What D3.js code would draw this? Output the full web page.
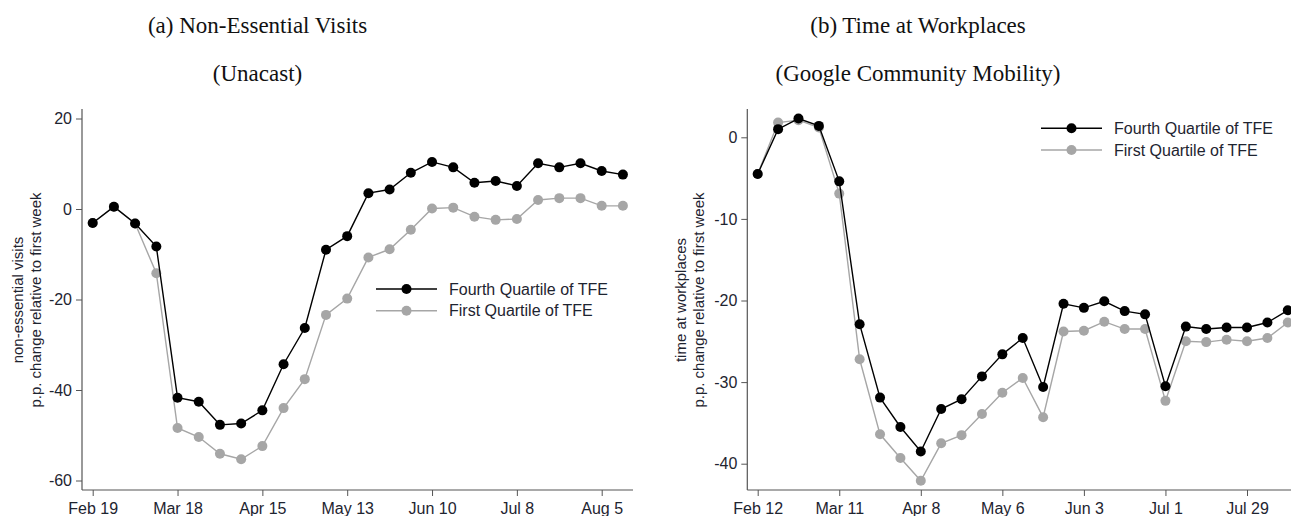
<!DOCTYPE html>
<html>
<head>
<meta charset="utf-8">
<title>Mobility by TFE quartile</title>
<script src="https://cdn.jsdelivr.net/npm/d3@7"></script>
<style>
    body { margin: 0; background: #fff; }
    svg { display: block; }
    .title { font-family: "Liberation Serif", "DejaVu Serif", serif; font-size: 23px; fill: #111; }
    .tick text { font-family: "Liberation Sans", Arial, sans-serif; font-size: 16px; fill: #1e2430; }
    .ytitle { font-family: "Liberation Sans", Arial, sans-serif; font-size: 15px; fill: #1e2430; }
    .legend text { font-family: "Liberation Sans", Arial, sans-serif; font-size: 16px; fill: #1e2430; }
</style>
</head>
<body>
<script>
// weekly dates, panel (a) starts Feb 19, panel (b) starts Feb 12
var datesA = ["2020-02-19","2020-02-26","2020-03-04","2020-03-11","2020-03-18","2020-03-25","2020-04-01","2020-04-08","2020-04-15","2020-04-22","2020-04-29","2020-05-06","2020-05-13","2020-05-20","2020-05-27","2020-06-03","2020-06-10","2020-06-17","2020-06-24","2020-07-01","2020-07-08","2020-07-15","2020-07-22","2020-07-29","2020-08-05","2020-08-12"];
var fourthA = [-3.1, 0.5, -3.2, -8.3, -41.7, -42.6, -47.7, -47.4, -44.5, -34.3, -26.3, -9.0, -6.0, 3.5, 4.3, 8.0, 10.4, 9.2, 5.8, 6.2, 5.1, 10.1, 9.2, 10.1, 8.4, 7.6];
var firstA  = [-3.1, 0.5, -3.2, -14.2, -48.4, -50.4, -54.1, -55.3, -52.4, -44.0, -37.6, -23.4, -19.8, -10.7, -8.9, -4.6, 0.1, 0.3, -1.7, -2.4, -2.2, 2.0, 2.4, 2.4, 0.7, 0.7];
var ticksA = ["2020-02-19","2020-03-18","2020-04-15","2020-05-13","2020-06-10","2020-07-08","2020-08-05"];
var yTicksA = [20, 0, -20, -40, -60];

var datesB = ["2020-02-12","2020-02-19","2020-02-26","2020-03-04","2020-03-11","2020-03-18","2020-03-25","2020-04-01","2020-04-08","2020-04-15","2020-04-22","2020-04-29","2020-05-06","2020-05-13","2020-05-20","2020-05-27","2020-06-03","2020-06-10","2020-06-17","2020-06-24","2020-07-01","2020-07-08","2020-07-15","2020-07-22","2020-07-29","2020-08-05","2020-08-12"];
var fourthB = [-4.5, 1.0, 2.3, 1.4, -5.4, -22.9, -31.9, -35.5, -38.5, -33.3, -32.1, -29.3, -26.6, -24.6, -30.6, -20.4, -20.9, -20.1, -21.3, -21.7, -30.5, -23.2, -23.5, -23.3, -23.3, -22.7, -21.2];
var firstB  = [-4.5, 1.8, 2.1, 1.2, -6.9, -27.2, -36.4, -39.3, -42.1, -37.5, -36.5, -33.9, -31.3, -29.5, -34.3, -23.8, -23.7, -22.6, -23.5, -23.5, -32.3, -25.0, -25.1, -24.8, -25.0, -24.6, -22.7];
var ticksB = ["2020-02-12","2020-03-11","2020-04-08","2020-05-06","2020-06-03","2020-07-01","2020-07-29"];
var yTicksB = [0, -10, -20, -30, -40];

var seriesNames = ["Fourth Quartile of TFE", "First Quartile of TFE"];
var seriesColors = ["#000000", "#a6a6a6"];

var width = 1291, height = 516;
var parse = d3.timeParse("%Y-%m-%d");
var fmt = function(d) { return d3.timeFormat("%b ")(d) + d.getDate(); };

var svg = d3.select("body").append("svg")
    .attr("width", width)
    .attr("height", height);

function drawPanel(p) {
    var g = svg.append("g");
    var x = d3.scaleTime().domain(p.xDomain.map(parse)).range(p.xRange);
    var y = d3.scaleLinear().domain(p.yDomain).range(p.yRange);

    // titles
    g.append("text").attr("class", "title")
        .attr("x", p.titleX).attr("y", 33).attr("text-anchor", "middle").text(p.title1);
    g.append("text").attr("class", "title")
        .attr("x", p.titleX).attr("y", 81).attr("text-anchor", "middle").text(p.title2);

    // axes
    var xAxis = g.append("g")
        .attr("transform", "translate(0," + p.axisY + ")")
        .call(d3.axisBottom(x).tickValues(p.xTicks.map(parse)).tickFormat(fmt).tickSizeOuter(0).tickSize(6).tickPadding(7));
    xAxis.select(".domain").attr("d", "M" + p.axisX + ",0H" + p.xEnd);
    var yAxis = g.append("g")
        .attr("transform", "translate(" + p.axisX + ",0)")
        .call(d3.axisLeft(y).tickValues(p.yTicks).tickFormat(function(d) { return String(d); })
            .tickSizeOuter(0).tickSize(6).tickPadding(4));
    yAxis.select(".domain").attr("d", "M0," + p.yTop + "V" + p.axisY);
    g.selectAll(".domain").attr("stroke", "#555").attr("stroke-width", 1.2);
    g.selectAll(".tick line").attr("stroke", "#555");

    // y title
    var yt = g.append("text").attr("class", "ytitle")
        .attr("transform", "translate(" + p.yTitleX + "," + p.yTitleY + ") rotate(-90)")
        .attr("text-anchor", "middle");
    yt.append("tspan").attr("x", 0).attr("dy", 0).text(p.yTitle1);
    yt.append("tspan").attr("x", 0).attr("dy", 17.5).text(p.yTitle2);

    // series: gray first, black on top
    [1, 0].forEach(function(k) {
        var vals = p.series[k];
        var pts = p.dates.map(function(d, i) { return [x(parse(d)), y(vals[i])]; });
        g.append("path")
            .attr("d", d3.line()(pts))
            .attr("fill", "none")
            .attr("stroke", seriesColors[k])
            .attr("stroke-width", 1.4);
        g.selectAll(null).data(pts).enter().append("circle")
            .attr("cx", function(d) { return d[0]; })
            .attr("cy", function(d) { return d[1]; })
            .attr("r", 5)
            .attr("fill", seriesColors[k]);
    });

    // legend
    var lg = g.append("g").attr("class", "legend");
    seriesNames.forEach(function(name, k) {
        var ly = p.legY + k * 21.7;
        lg.append("line").attr("x1", p.legX).attr("x2", p.legX + 61)
            .attr("y1", ly).attr("y2", ly)
            .attr("stroke", seriesColors[k]).attr("stroke-width", 1.4);
        lg.append("circle").attr("cx", p.legX + 30.5).attr("cy", ly).attr("r", 5).attr("fill", seriesColors[k]);
        lg.append("text").attr("x", p.legX + 73).attr("y", ly + 5.5).text(name);
    });
}

drawPanel({
    title1: "(a) Non-Essential Visits", title2: "(Unacast)", titleX: 257.5,
    dates: datesA, series: [fourthA, firstA],
    xDomain: ["2020-02-19", "2020-08-05"], xRange: [92.7, 601.7],
    yDomain: [0, -40], yRange: [209, 390],
    xTicks: ticksA, yTicks: yTicksA,
    axisX: 82, axisY: 490, xEnd: 633, yTop: 109,
    yTitle1: "non-essential visits", yTitle2: "p.p. change relative to first week",
    yTitleX: 23, yTitleY: 300,
    legX: 376, legY: 289
});

drawPanel({
    title1: "(b) Time at Workplaces", title2: "(Google Community Mobility)", titleX: 918,
    dates: datesB, series: [fourthB, firstB],
    xDomain: ["2020-02-12", "2020-07-29"], xRange: [757.7, 1247],
    yDomain: [0, -40], yRange: [137.3, 463.7],
    xTicks: ticksB, yTicks: yTicksB,
    axisX: 747.3, axisY: 490, xEnd: 1291, yTop: 109,
    yTitle1: "time at workplaces", yTitle2: "p.p. change relative to first week",
    yTitleX: 686, yTitleY: 300,
    legX: 1041, legY: 128.3
});
</script>
</body>
</html>
